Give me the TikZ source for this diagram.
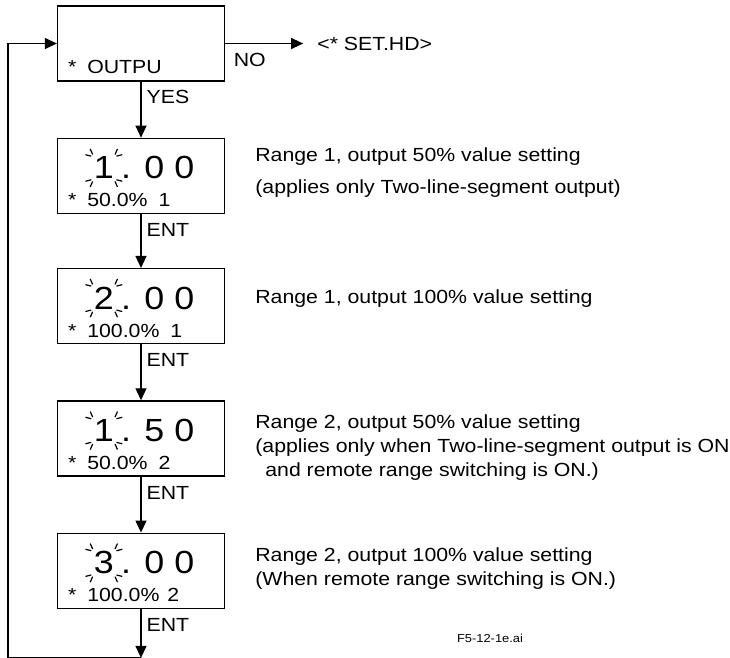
\documentclass[tikz,border=0pt]{standalone}
\usepackage{fontspec}
\setmainfont{Liberation Sans}[FakeStretch=1.12]
\usepackage{tikz}
\usetikzlibrary{positioning, arrows.meta}
\usetikzlibrary{calc}

% 闪烁数字四角的短线
\newcommand{\blinkmarks}[1]{%
    \foreach \cnr/\ang in {north west/140, north east/40, south west/220, south east/320}{%
        \draw [blink] ($(#1.\cnr)+(\ang-26:2.5pt)$) -- ++(\ang-26:6pt);
        \draw [blink] ($(#1.\cnr)+(\ang+26:2.5pt)$) -- ++(\ang+26:6pt);
    }%
}

\begin{document}
\begin{tikzpicture}[
        x=1pt, y=1pt,
        node distance=55pt,
        screen/.style={rectangle, minimum width=167pt, minimum height=75pt, inner sep=0pt, draw=black, line width=1.3pt},
        bignum/.style={inner sep=0pt, font=\fontsize{32}{36}\selectfont},
        small/.style={inner sep=0pt, font=\fontsize{19}{24}\selectfont},
        desc/.style={inner sep=0pt, align=left, font=\fontsize{19}{24}\selectfont},
        lbl/.style={inner sep=0pt, font=\fontsize{19}{24}\selectfont},
        arrow/.style={line width=1.3pt, -{Triangle[length=12pt, width=11pt]}},
        blink/.style={line width=1.2pt}
    ]
        \useasboundingbox (0,0) rectangle (730,-657);

        % ===== 画面 =====
        \node (scrOut) [screen] at (141,-43.5) {};
        \node (scrR1Half) [screen, below=56pt of scrOut] {};
        \node (scrR1Full) [screen, below=54pt of scrR1Half] {};
        \node (scrR2Half) [screen, below=56pt of scrR1Full] {};
        \node (scrR2Full) [screen, below=56pt of scrR2Half] {};

        % ===== 画面内容 =====
        \node (starOut) [small, anchor=base west] at ($(scrOut.south west)+(11,8)$) {*\hspace{11pt}OUTPU};

        \node (digR1Half) [bignum, anchor=base] at ($(scrR1Half.south west)+(47,35)$) {1};
        \node (valR1Half) [bignum, anchor=base west] at ($(digR1Half.base east)+(7,0)$) {. 0 0};
        \node (starR1Half) [small, anchor=base west] at ($(scrR1Half.south west)+(11,7)$) {*\hspace{11pt}50.0\%\hspace{11pt}1};

        \node (digR1Full) [bignum, anchor=base] at ($(scrR1Full.south west)+(47,35)$) {2};
        \node (valR1Full) [bignum, anchor=base west] at ($(digR1Full.base east)+(7,0)$) {. 0 0};
        \node (starR1Full) [small, anchor=base west] at ($(scrR1Full.south west)+(11,7)$) {*\hspace{11pt}100.0\%\hspace{11pt}1};

        \node (digR2Half) [bignum, anchor=base] at ($(scrR2Half.south west)+(47,35)$) {1};
        \node (valR2Half) [bignum, anchor=base west] at ($(digR2Half.base east)+(7,0)$) {. 5 0};
        \node (starR2Half) [small, anchor=base west] at ($(scrR2Half.south west)+(11,7)$) {*\hspace{11pt}50.0\%\hspace{11pt}2};

        \node (digR2Full) [bignum, anchor=base] at ($(scrR2Full.south west)+(47,35)$) {3};
        \node (valR2Full) [bignum, anchor=base west] at ($(digR2Full.base east)+(7,0)$) {. 0 0};
        \node (starR2Full) [small, anchor=base west] at ($(scrR2Full.south west)+(11,7)$) {*\hspace{11pt}100.0\%\hspace{8pt}2};

        \blinkmarks{digR1Half}
        \blinkmarks{digR1Full}
        \blinkmarks{digR2Half}
        \blinkmarks{digR2Full}

        % ===== 说明文字 =====
        \node (setHd) [lbl, inner xsep=14pt, right=78pt of scrOut] {<* SET.HD>};
        \node (descR1Half) [desc, right=30pt of scrR1Half, yshift=3.5pt] {Range 1, output 50\% value setting\\[8pt](applies only Two-line-segment output)};
        \node (descR1Full) [desc, right=30pt of scrR1Full, yshift=7.5pt] {Range 1, output 100\% value setting};
        \node (descR2Half) [desc, right=30pt of scrR2Half, yshift=-9.5pt] {Range 2, output 50\% value setting\\(applies only when Two-line-segment output is ON\\\hspace*{10pt}and remote range switching is ON.)};
        \node (descR2Full) [desc, right=30pt of scrR2Full, yshift=2pt] {Range 2, output 100\% value setting\\(When remote range switching is ON.)};
        \node (fileTag) [inner sep=0pt, font=\fontsize{11.5}{13}\selectfont] at (490,-638) {F5-12-1e.ai};

        % ===== 返回路径关键点 =====
        \coordinate (loopBot) at ($(scrR2Full.south)+(0,-49)$);
        \coordinate (loopTop) at ($(scrOut.west)+(-49,0)$);

        % ===== 箭头 =====
        \draw [arrow] (scrOut) -- node (noLbl) [lbl, pos=0, anchor=north west, xshift=8pt, yshift=-9pt] {NO} (setHd);
        \draw [arrow] (scrOut) -- node (yesLbl) [lbl, pos=0, anchor=north west, xshift=5pt, yshift=-8pt] {YES} (scrR1Half);
        \draw [arrow] (scrR1Half) -- node (entA) [lbl, pos=0, anchor=north west, xshift=5pt, yshift=-9pt] {ENT} (scrR1Full);
        \draw [arrow] (scrR1Full) -- node (entB) [lbl, pos=0, anchor=north west, xshift=5pt, yshift=-9pt] {ENT} (scrR2Half);
        \draw [arrow] (scrR2Half) -- node (entC) [lbl, pos=0, anchor=north west, xshift=5pt, yshift=-9pt] {ENT} (scrR2Full);
        \draw [arrow] (scrR2Full) -- node (entD) [lbl, pos=0, anchor=north west, xshift=5pt, yshift=-9pt] {ENT} (loopBot);

        % 返回 OUTPU
        \draw [arrow] (loopBot) -| (loopTop) -- (scrOut);

    \end{tikzpicture}
\end{document}
